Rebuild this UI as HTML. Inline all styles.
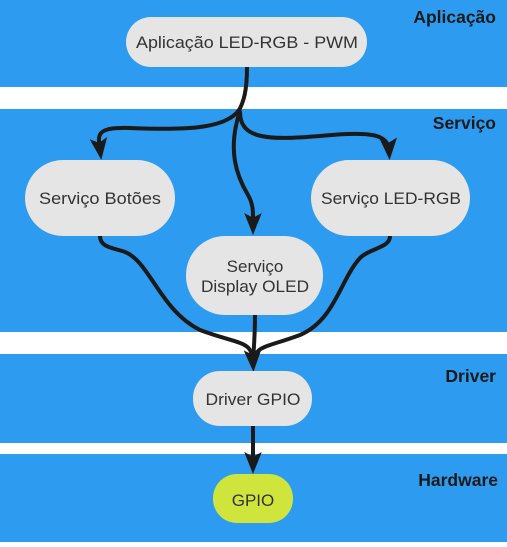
<!DOCTYPE html>
<html><head><meta charset="utf-8"><style>
body{margin:0;width:507px;height:542px;overflow:hidden;background:#fff;font-family:"Liberation Sans",sans-serif}
</style></head><body>
<svg width="507" height="542" viewBox="0 0 507 542" xmlns="http://www.w3.org/2000/svg">
<defs><marker id="a" markerWidth="6" markerHeight="6" refX="3" refY="3" orient="auto" markerUnits="strokeWidth"><path d="M0,0.8 L5.5,3 L0,5.2 L1.2,3 Z" fill="#1a1a1a"/></marker></defs>
<rect x="0" y="0" width="507" height="87" fill="#2d9bef"/>
<rect x="0" y="109" width="507" height="223" fill="#2d9bef"/>
<rect x="0" y="354" width="507" height="89" fill="#2d9bef"/>
<rect x="0" y="454" width="507" height="88" fill="#2d9bef"/>
<g font-weight="bold" font-size="17.5" fill="#1a1a1a" text-anchor="end">
<text x="496" y="23">Aplicação</text>
<text x="496" y="129">Serviço</text>
<text x="496" y="382">Driver</text>
<text x="498" y="486">Hardware</text>
</g>
<g fill="none" stroke="#1a1a1a" stroke-width="4" stroke-linecap="round">
<path d="M247,67 C247,90 244,102 238,112"/>
<path d="M239,110 C225,130 180,130 130,128 C95,127 98,135 100,150" marker-end="url(#a)"/>
<path d="M240,112 C240,140 270,140 320,136 C370,131 388,134 389,150" marker-end="url(#a)"/>
<path d="M239,114 C228,150 236,175 248,195 C254,205 253,215 253,225" marker-end="url(#a)"/>
<path d="M100,236 C100,248 115,248 125,252 C150,262 160,310 200,330 C240,345 252,340 253,362" marker-end="url(#a)"/>
<path d="M255,315 C255,335 254,345 253,362"/>
<path d="M390,236 C390,248 370,248 360,258 C340,280 335,320 300,335 C265,348 256,345 253,362"/>
<path d="M253,426 L253,464" marker-end="url(#a)"/>
</g>
<g fill="#e5e5e5">
<rect x="126" y="17" width="241" height="50" rx="25"/>
<rect x="25" y="160" width="150" height="76" rx="38"/>
<rect x="311" y="160" width="159" height="76" rx="38"/>
<rect x="186" y="236" width="137" height="79" rx="39"/>
<rect x="193" y="371" width="119" height="55" rx="27"/>
</g>
<rect x="213" y="474" width="80" height="49" rx="24" fill="#d0e53c"/>
<g font-size="17" fill="#333" text-anchor="middle">
<text x="247" y="48" textLength="222" lengthAdjust="spacingAndGlyphs">Aplicação LED-RGB - PWM</text>
<text x="100" y="204" textLength="122" lengthAdjust="spacingAndGlyphs">Serviço Botões</text>
<text x="391" y="204" textLength="140" lengthAdjust="spacingAndGlyphs">Serviço LED-RGB</text>
<text x="255" y="272">Serviço</text>
<text x="255" y="292" textLength="108" lengthAdjust="spacingAndGlyphs">Display OLED</text>
<text x="253" y="405" textLength="95" lengthAdjust="spacingAndGlyphs">Driver GPIO</text>
<text x="253" y="506">GPIO</text>
</g>
</svg>
</body></html>
